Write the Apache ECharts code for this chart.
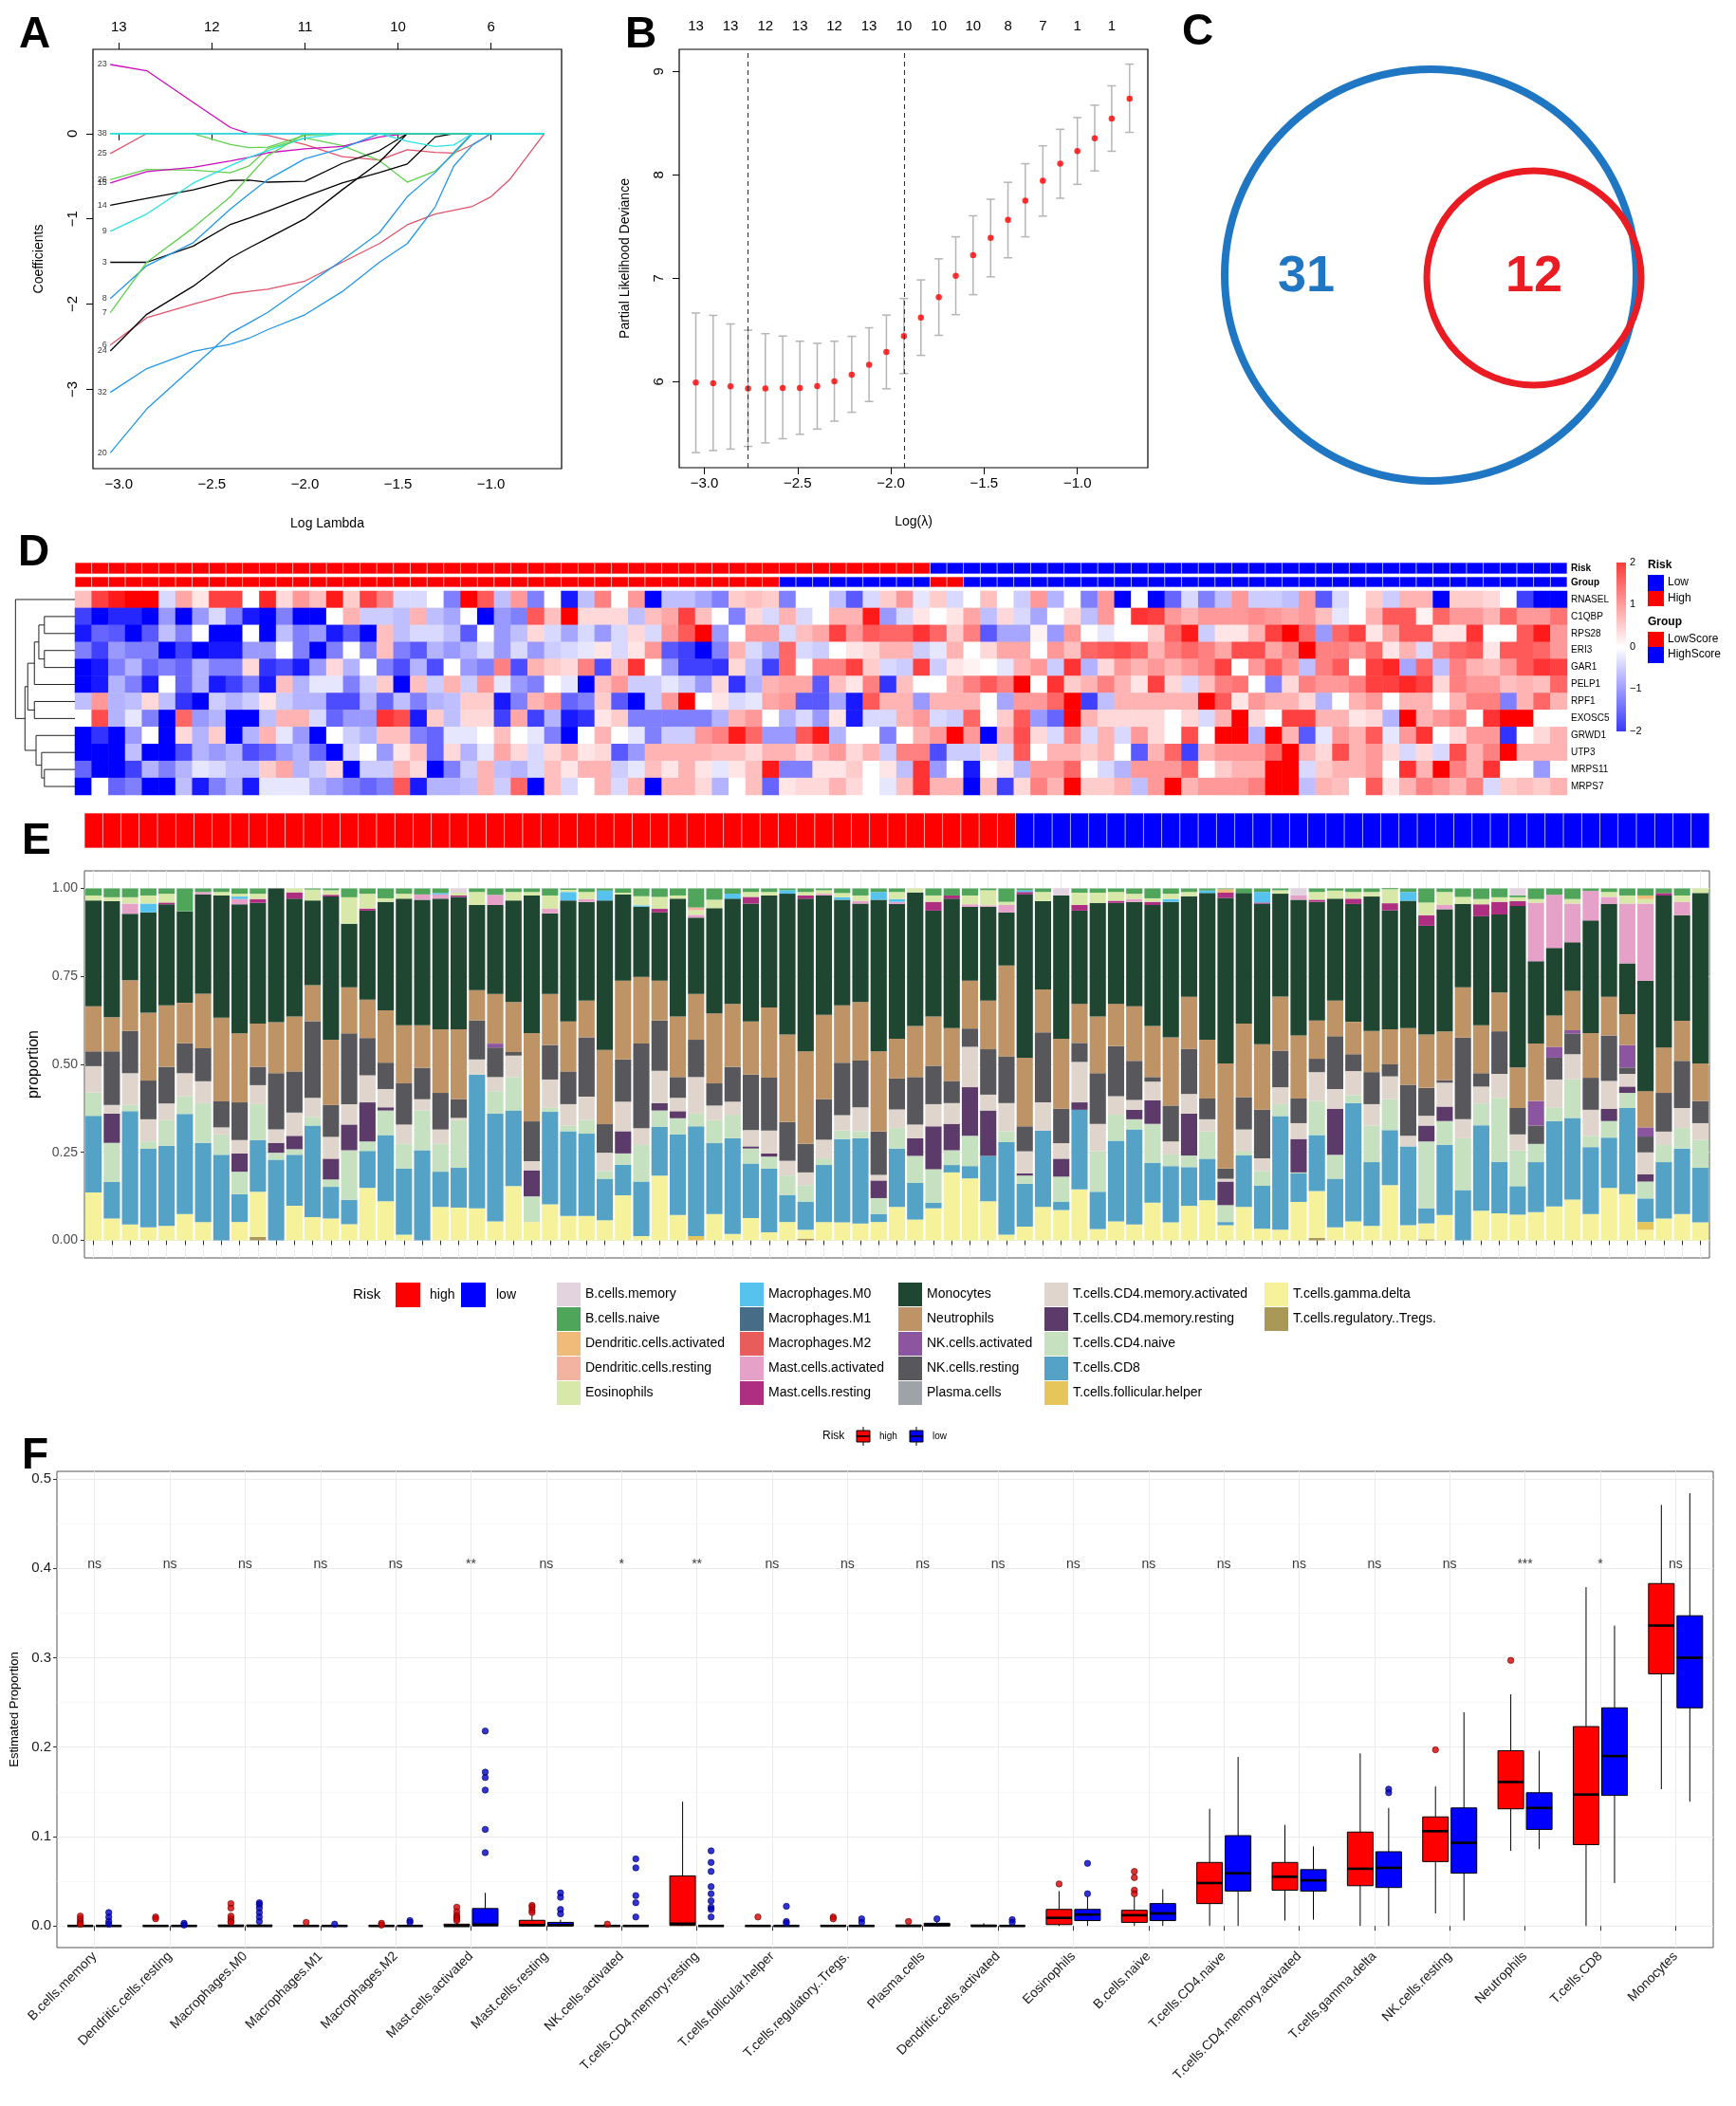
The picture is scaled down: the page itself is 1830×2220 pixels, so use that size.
<!DOCTYPE html>
<html>
<head>
<meta charset="UTF-8">
<script src="https://cdn.jsdelivr.net/npm/echarts@6/dist/echarts.min.js"></script>
<style>
  html, body { margin: 0; padding: 0; background: #fff; }
  #main { width: 1830px; height: 2220px; }
</style>
</head>
<body>
<div id="main"></div>
<script>
var FONT = '"Liberation Sans", Arial, Helvetica, sans-serif';

// ---------- A: lasso coefficient paths ----------
var lambdaGrid = [-3.046, -2.85, -2.6, -2.4, -2.3, -2.2, -2.0, -1.8, -1.6, -1.45, -1.3, -1.2, -1.1, -1.0, -0.9, -0.714];
var coefLabels = ['23', '25', '26', '15', '14', '9', '3', '8', '7', '6', '24', '32', '20', '', '', '38'];
var coefPaths = [
  [0.81, 0.737, 0.364, 0.07, 0, 0, 0, 0, 0, 0, 0, 0, 0, 0, 0, 0],
  [-0.235, 0, 0, 0, 0, -0.02, -0.13, -0.27, -0.31, -0.19, -0.22, -0.23, -0.13, 0, 0, 0],
  [-0.54, -0.42, -0.43, -0.46, -0.38, -0.175, -0.05, -0.14, -0.316, -0.57, -0.44, -0.24, 0, 0, 0, 0],
  [-0.58, -0.445, -0.395, -0.32, -0.28, -0.225, -0.18, -0.15, -0.04, 0, 0, 0, 0, 0, 0, 0],
  [-0.84, -0.76, -0.66, -0.55, -0.545, -0.57, -0.56, -0.35, -0.2, 0, 0, 0, 0, 0, 0, 0],
  [-1.146, -0.943, -0.58, -0.377, -0.28, -0.2, -0.05, 0, 0, 0, 0, 0, 0, 0, 0, 0],
  [-1.51, -1.51, -1.32, -1.065, -0.99, -0.91, -0.74, -0.58, -0.457, -0.356, -0.04, 0, 0, 0, 0, 0],
  [-1.935, -1.55, -1.28, -0.883, -0.71, -0.54, -0.296, -0.174, 0, 0, 0, 0, 0, 0, 0, 0],
  [-2.1, -1.51, -1.105, -0.74, -0.5, -0.26, 0, 0, 0, 0, 0, 0, 0, 0, 0, 0],
  [-2.48, -2.16, -2.0, -1.88, -1.85, -1.826, -1.73, -1.51, -1.29, -1.07, -0.943, -0.9, -0.854, -0.74, -0.54, 0],
  [-2.55, -2.12, -1.79, -1.46, -1.34, -1.227, -1.0, -0.66, -0.336, 0, 0, 0, 0, 0, 0, 0],
  [-3.036, -2.757, -2.555, -2.47, -2.4, -2.3, -2.125, -1.854, -1.51, -1.29, -0.86, -0.38, -0.134, 0, 0, 0],
  [-3.745, -3.23, -2.737, -2.34, -2.22, -2.097, -1.79, -1.486, -1.162, -0.74, -0.457, -0.22, 0, 0, 0, 0],
  [0, 0, 0, -0.13, -0.165, -0.16, -0.02, 0, 0, 0, 0, 0, 0, 0, 0, 0],
  [0, 0, 0, 0, 0, 0, 0, 0, 0, -0.09, -0.15, -0.134, 0, 0, 0, 0],
  [0, 0, 0, 0, 0, 0, 0, 0, 0, 0, 0, 0, 0, 0, 0, 0]
];
var coefColors = ['#CD0BBC', '#DF536B', '#61D04F', '#CD0BBC', '#000000', '#28E2E5', '#000000', '#2297E6',
  '#61D04F', '#DF536B', '#000000', '#2297E6', '#2297E6', '#61D04F', '#28E2E5', '#28E2E5'];
var dfAt = [-3, -2.5, -2, -1.5, -1];
var dfCount = [13, 12, 11, 10, 6];

// ---------- B: cross-validation ----------
var cvLogLambda = [-3.046, -2.953, -2.860, -2.766, -2.673, -2.580, -2.488, -2.395, -2.303, -2.210, -2.117, -2.024, -1.930,
  -1.839, -1.743, -1.652, -1.559, -1.465, -1.372, -1.279, -1.185, -1.092, -1.000, -0.907, -0.816, -0.720];
var cvMean = [5.99, 5.983, 5.953, 5.933, 5.933, 5.937, 5.937, 5.957, 6.003, 6.067, 6.163, 6.287, 6.44, 6.62, 6.817,
  7.023, 7.223, 7.39, 7.563, 7.75, 7.943, 8.107, 8.23, 8.353, 8.543, 8.737];
var cvUpper = [6.663, 6.64, 6.557, 6.497, 6.463, 6.44, 6.39, 6.37, 6.39, 6.437, 6.52, 6.643, 6.803, 6.983, 7.187,
  7.4, 7.603, 7.763, 7.927, 8.107, 8.28, 8.44, 8.553, 8.673, 8.86, 9.07];
var cvLower = [5.313, 5.333, 5.347, 5.373, 5.407, 5.447, 5.49, 5.54, 5.617, 5.703, 5.807, 5.93, 6.077, 6.253, 6.447,
  6.647, 6.84, 7.013, 7.197, 7.4, 7.6, 7.773, 7.907, 8.037, 8.227, 8.41];
var cvNonzero = [13, 13, 12, 13, 12, 13, 10, 10, 10, 8, 7, 1, 1];
var lambdaCut = [-2.765, -1.930];

// ---------- C: Venn ----------
var vennCounts = [31, 12];

// ---------- D: heatmap ----------
var genes = ['RNASEL', 'C1QBP', 'RPS28', 'ERI3', 'GAR1', 'PELP1', 'RPF1', 'EXOSC5', 'GRWD1', 'UTP3', 'MRPS11', 'MRPS7'];
var zRNASEL = [.5,1.5,1.8,2,2,-.3,.7,.2,1.5,1.5,0,1.7,.3,.8,.5,1.8,.4,1.5,1,-.3,-.3,0,-1,2,1.3,-.5,.8,-1,0,-1.8,-.5,1,0,.8,-2,-.5,-.5,-.7,-1,.4,.5,.4,-1,0,0,-.5,-1.3,
  -.3,.4,.8,-.2,.4,-.3,0,.5,0,-.4,.8,-.6,0,-1,.8,-2,0,-2,-1.2,-.3,-1,-.5,.8,-.4,-.4,-.5,.8,-1.3,-.3,0,.4,-.4,.6,.6,-2,.4,.4,.3,0,-1.5,-2,-2];
var zC1QBP = [-1.5,-2,-1.7,-1.7,-2,-.8,-2,-.8,-.3,-1,-1.8,-2,-1,-2,-2,0,.6,-.4,-.4,-.5,.6,-.5,-.7,0,-2,-.8,-1,1.3,.5,2,.3,.3,.3,-.5,.5,.7,1.5,.5,0,-1,.3,-.3,.6,-.3,0,.6,.6,
  1.8,-.8,-.3,.2,0,.2,.7,-.5,.3,-.3,-.7,0,.3,-.5,.8,0,1.6,1.5,.8,.6,.8,.8,.8,.9,.8,.7,.8,.5,-.2,0,.6,1.3,1.3,.1,1.2,.8,.8,.6,1.2,.8,.8,1.1];
var zRPS28 = [-1.8,-1.2,-1.3,-2,-1.3,-.5,-1,0,-2,-2,0,-2,-.5,-1,-.8,-1.8,-1.3,-2,.5,-.5,-.3,-.3,-.5,-1.3,0,-.8,-.5,.3,-.3,-.7,-.3,-.8,-.3,.3,-.3,.8,1.3,2,-.8,0,.8,.8,-.3,.5,.7,1.5,.8,
  1.3,1.2,1.2,1.6,1.2,.4,1,-1.3,-.7,-.7,.1,-.8,.8,0,-.2,0,0,.4,1.2,1.8,-.4,.2,.2,.6,1.5,2,1.2,-.8,1.2,1.5,.2,.7,1.3,1.3,.2,.2,1.6,0,0,1.3,1.8,.8];
var zERI3 = [-1,-1.5,-.8,-1,-1,-2,-1.5,-2,-1.8,-1.8,-.8,-.8,0,-1,-2,-1,0,-1,.5,-1,-1.3,-.6,-.8,-.6,-.3,-.8,-.3,-.8,-.4,-.3,-.2,.2,-.3,.2,.8,-1.3,-1.5,-2,-1,.6,-.3,-.6,1.2,-.3,-.4,0,.2,
  .3,.6,.6,-.4,-.2,.6,0,.3,.7,.7,0,.8,.5,1.2,1.3,1.4,1.2,.6,1,1.2,1,.7,1.4,1.4,.7,1,2,1,1,.8,1.2,.2,.6,-.3,1,1.2,1.3,.2,1.3,1.3,1.2,.8];
var zGAR1 = [-2,-1.8,-1,-.6,-1.2,-1,-1.2,-.6,-1,-1,.3,-1.6,-1.4,-1.8,-.8,.3,-.6,0,-1,-1.4,-.6,-1.4,0,-.8,-1,1,-1.4,.6,.4,.3,1,-1.4,.5,1.6,0,-.8,-1.5,-1.5,-1.6,.3,-.5,-1.5,1.2,0,1,1,1.5,
  .4,-.3,-.4,1.5,-.4,.2,.1,0,-.2,.6,.8,-.4,1.6,-.6,.3,.8,.6,.8,.6,.8,1,1.5,0,.8,1.3,.8,-.5,1,1.3,0,1.5,1.7,-.7,1.2,-.5,1,.6,.5,.8,1.3,1.6,1.5];
var zPELP1 = [-2,-1.8,-.6,-1,-1.8,0,-1.2,-.6,-1.8,-1.5,-1,-1.8,.5,-.6,-.2,-.2,-1,-.4,.4,-2,.5,-.4,.6,-.4,.8,-.2,-.8,-1,0,-.2,-2,.5,.8,-.4,-.4,-.2,-.4,-.8,.3,-1.6,-.6,.6,.7,.7,-1.3,.5,.2,
  1,-1.6,.5,0,0,.6,1,1.3,1,2,0,1.6,.4,.6,1,.6,.2,1.5,.3,-.3,.5,1,1.1,0,-1,.3,1,.8,.8,1,1.5,1.5,1.7,1.5,.3,1,.8,.8,.5,.6,.5,1.2];
var zRPF1 = [-.5,.8,-.6,-.5,.3,-.5,-1.6,-2,-.4,-.6,-.4,.2,-.4,-.6,-.6,-1.4,-1.4,-.6,-1.2,-.5,-1,-.6,-.5,.4,.4,-1.8,-1,.6,.8,-1.2,-1,.4,-1.3,-2,-.4,.8,2,0,.2,-.3,-.2,.7,.8,-1.3,-1.3,-.7,-1.8,
  1.3,.6,.6,-.8,.6,.6,.6,0,-.7,.8,.8,1.2,2,-1.5,-.5,.6,.6,.6,.6,.6,2,1.3,.2,.8,.6,.6,.3,-.6,0,.6,.8,0,.6,.6,0,.6,1,1,-1,.6,1.2,.6];
var zEXOSC5 = [0,1.4,-.6,-.2,-1,-2,1.2,-.8,-.6,-2,-2,-.5,.6,.6,-.3,-1.2,-.8,-.8,1.6,1.4,-1.8,.4,-.5,.3,.3,-1.5,.7,-1.5,-.6,-1.8,-1.6,.2,.4,-1,-1,-1,-1,-1,-.6,.6,.8,0,-.6,-.3,-.8,.2,-1.8,
  -.3,-.3,.6,.8,-.3,-.4,1.2,0,.4,1.3,-.8,-1.2,2,.6,.3,.3,.3,.3,0,.3,-.3,.6,2,.3,0,1.5,1.5,.6,.6,.2,.3,-.6,2,.6,.8,1,0,1.6,2,2,0,0];
var zGRWD1 = [-2,-1.6,-2,-.8,0,-2,.3,-.6,.4,-2,-.6,.6,-.2,-.8,-2,0,-.4,-.6,.5,.5,-1,-1.2,-.2,-.2,0,.5,0,-.2,-1,-2,0,.6,0,-.2,-1,-.4,-.4,.8,1,1.8,1.2,-.8,-.8,1.3,1.8,-.6,0,
  0,-1,0,.6,.8,2,.8,-2,.6,1.4,.3,-.3,1,-.3,.6,-.3,.8,.3,0,1.4,0,2,2,-.6,2,.6,-1.3,-.2,.8,.6,1.3,-.2,.8,1.6,0,.3,.8,.8,-1.6,0,.3,.6];
var zUTP3 = [-2,-2,-2,-.5,-2,-2,-1.4,-.6,-.8,-.6,-1.4,-1.2,-.8,-.6,-1.2,-2,-.3,0,-.8,.2,.5,-1.2,.3,-.6,-.2,.7,.3,-.3,.3,.6,.2,.3,-1.3,-.8,.6,.6,.6,.6,.5,.5,.3,.6,.6,.3,.6,.8,.3,
  .6,-.4,1,1,-1.4,-.4,-.4,.3,-.3,1.3,0,.6,.6,.4,.6,0,-1.3,.6,1.2,-1.5,.6,.8,.8,.8,1.2,2,.6,.3,1.4,.6,.8,.3,-.3,.3,-.3,1.4,.6,1,2,.6,.6,.6];
var zMRPS11 = [-1.2,-2,-2,-1.5,-.6,-1,-.6,-.2,-.3,-.5,-.5,.4,.7,-.6,-.4,.3,-2,-.4,-.4,.6,.3,-2,-1,-.4,.6,-.5,-.6,-.3,.5,.2,.6,.6,-.4,-.2,.5,.2,.6,.2,-.2,.2,.5,1.8,-1,-1,.2,.2,.4,
  0,.2,-.5,1.6,-.8,0,-1.8,0,.2,-.6,.8,.8,1.2,0,-.3,-.6,.8,.8,.8,1.2,0,.4,.6,.6,2,2,-.3,.4,.6,.6,.8,0,1.6,.6,2,1,.6,1.6,0,0,-.8,0];
var zMRPS7 = [-2,0,-1.2,-1,-2,-2,-.5,-1.8,-1,-.6,-1.8,-.2,-.2,-.2,-.6,-.8,-1,-1.2,-1,1.3,-1.8,-.6,-.6,-.5,.6,-.4,1.2,-2,.5,-.3,0,.6,-.3,.6,-2,.6,.6,.3,-.6,0,.5,-1.2,.2,.3,.3,.6,.3,
  0,-.2,.5,1.6,.6,.6,-2,.5,-1.5,.3,1,.6,2,.4,.4,.6,-.5,.8,2,.6,.8,.8,.8,1,2,2,-.5,.6,.5,0,1.3,.2,.6,1,.8,.6,1,-.3,.4,.5,.4,.6];
var riskRuns = [['high', 51], ['low', 38]];
var groupRuns = [['LowScore', 42], ['HighScore', 9], ['LowScore', 2], ['HighScore', 36]];
// hclust-style merges: negative = leaf (1-based), positive = earlier merge
var dendroMerge = [[-2, -3], [-4, -5], [1, 2], [3, -6], [-7, -8], [4, 5], [-11, -12], [-10, 7], [-9, 8], [6, 9], [-1, 10]];
var dendroHeight = [55, 55, 65, 73, 73, 85, 55, 60, 70, 90, 107];

// ---------- E: CIBERSORT proportions per sample ----------
var propGammaDelta = [.136,.062,.045,.037,.041,.075,.052,0,.052,.128, 0,.098,.066,.062,.046,.149,.111,.016,0,.095,
  .093,.091,.054,.154,.052,.102,.069,.069,.057,.128, .012,.184,.072,0,.075,.018,.063,.023,.052,.025,
  .052,.051,.048,.052,.095,.059,.091,.193,.176,.111, .016,.039,.095,.086,.145,.032,.054,.045,.107,.051,
  .098,.114,.043,.095,.033,.03,.109,.133,.037,.054, .041,.157,.043,.045,.072,0,.084,.077,.073,.08,
  .096,.116,.075,.149,.131,.03,.062,.075,.051];
var propCD8 = [.218,.104,.322,.223,.228,.284,.225,.243,.079,.147, .229,.145,.26,.09,.069,.105,.188,.188,.256,.1,
  .113,.38,.306,.215,0,.263,.241,.234,.118,.087, .155,.138,.229,.312,.201,.272,.155,.181,.077,.079,
  .162,.237,.242,.023,.166,.104,.016,.021,.035,.129, .263,.122,.217,.023,.226,.106,.229,.27,.113,.16,
  .11,.118,.009,.146,.122,.323,.081,.159,.138,.336, .181,.156,.224,.043,.199,.143,.243,.146,.081,.142,
  .243,.232,.19,.143,.245,.067,.16,.186,.155];
var propCD4Naive = [.066,.111,.018,.021,.073,.051,.113,.058,.064,.102, .02,.016,.025,.021,.141,.027,.07,.07,.113,.079,
  .136,0,.064,.095,.073,.013,.016,.039,.022,.032, .104,.047,.046,.036,.066,.067,.043,.034,.055,.048,
  .019,.024,.02,.045,.058,.077,.095,.042,.086,0, .031,.023,0,.072,0,.115,.074,.029,.111,.033,
  .033,.077,.048,.011,.042,.034,.003,.097,.068,.022, .104,.088,0,.19,.068,.147,.062,.182,.102,.052,
  .039,.11,.032,.047,.043,.048,.049,.058,.08];
var propCD4MemRest = [0,.083,0,0,0,0,0,0,.052,0, .028,.038,0,.059,.073,.111,.009,0,0,0,
  0,0,0,0,.074,0,0,0,0,.063, 0,.021,.02,0,0,0,.006,.009,0,0,
  0,0,0,.05,0,.05,.122,.075,.138,.129, 0,.006,0,.051,.021,0,0,.027,.067,0,
  .119,0,.067,0,0,0,.095,0,.131,0, 0,0,0,.045,.041,0,0,0,0,0,
  0,0,0,.035,.018,.021,0,0,0];
var propCD4MemAct = [.075,.025,.09,.063,.047,.065,.062,.02,.038,.054, .038,.066,.054,.062,.058,.077,.052,.055,.032,.041,
  .006,.043,.04,.061,.026,.079,.061,.066,.052,.084, .048,.092,.038,.104,.041,.037,.046,.065,.042,.036,
  .053,.044,.068,.016,.053,.039,.063,.059,.115,.045, .08,.063,.08,.044,.115,.078,.053,.028,.053,.037,
  .056,.035,.008,.063,.036,.048,.045,.082,.056,.069, .061,.065,.03,.028,.068,.054,.048,.068,.045,0,
  .079,.071,.074,.079,.036,.062,.038,.057,.047];
var propNKRest = [.042,.152,.12,.11,.104,.085,.094,.074,.107,.052, .16,.117,.218,.091,.201,.106,.075,.117,.089,.104,
  .053,.111,.084,.01,.113,.098,.093,.169,.081,.12, .24,.143,.059,.106,.063,.099,.158,.15,.11,.081,
  .115,.149,.133,.123,.088,.135,.109,.063,.052,.129, .133,.071,.199,.098,.054,.144,.142,.111,.013,.102,
  .128,.059,.029,.092,.138,.104,.07,.038,.15,.048, .091,.034,.145,.079,.007,.232,.038,.121,.075,.052,
  .062,.059,.091,.129,.018,.045,.11,.134,.063];
var propNeutrophils = [.128,.097,.144,.193,.175,.115,.155,.238,.196,.123, .145,.156,.102,.185,.131,.109,.149,.165,.121,.181,
  .199,.086,.141,.142,.251,.145,.142,.104,.211,.224, .19,.113,.172,.13,.199,.179,.151,.2,.249,.263,
  .24,.163,.166,.228,.113,.145,.14,.15,.136,.138, .258,.195,.122,.199,.111,.161,.12,.155,.145,.194,
  .148,.167,.299,.209,.186,.154,.179,.109,.101,.092, .117,.1,.161,.152,.139,.143,.136,.11,.115,.163,
  .089,.112,.127,.11,.088,.103,.129,.114,.107];
var propMonocytes = [.301,.33,.189,.285,.287,.26,.282,.347,.367,.343, .38,.335,.241,.407,.181,.253,.308,.36,.357,.371,
  .376,.242,.253,.289,.391,.229,.344,.281,.425,.245, .199,.194,.335,.217,.299,.299,.335,.318,.4,.434,
  .339,.3,.28,.431,.383,.38,.301,.368,.21,.267, .151,.464,.251,.407,.265,.323,.287,.297,.344,.385,
  .286,.417,.47,.371,.4,.292,.386,.337,.29,.335, .382,.338,.362,.309,.347,.237,.31,.222,.459,.234,
  .192,.138,.32,.264,.144,.314,.432,.3,.484];
var propEosinophils = [.014,.011,.018,.023,.025,0,0,.01,.008,.015, 0,.011,.031,.013,.075,.042,.01,.014,0,0,
  .008,.037,0,.024,.01,.038,.006,.02,0,.005, .026,.034,.009,.013,.024,0,.014,.01,0,.01,
  .01,.012,.015,0,.02,.011,.018,0,.025,.043, .009,0,.026,0,.035,.029,.025,.015,.01,.015,
  .012,0,0,0,0,.01,0,.022,.023,.019, .013,.04,0,.036,.037,.02,.015,.013,.011,.01,
  0,.013,0,.014,.023,.013,0,.018,.013];
var propBNaive = [.02,.025,.025,.02,.015,.065,.01,.01,.015,.015, 0,0,.003,.005,.025,.015,.028,.015,.017,.013,
  0,.01,.018,.01,.01,.02,.004,.01,.006,.012, .022,.024,.02,.054,.032,.015,.01,.01,.005,.01,
  .005,.013,.02,.01,.01,0,.02,.02,.02,.005, .038,.005,.01,0,.012,.012,.01,.015,.028,.015,
  .01,.006,.002,.013,.01,.005,0,.01,.006,.01, .01,.003,.01,.04,.01,.024,.03,.025,.005,.03,
  .018,.03,.007,.01,.02,.02,.013,.02,0];
// sparse ones: {sample index: proportion}
var propNKAct = {22: .011, 79: .07, 80: .031, 81: .009, 84: .064, 85: .026};
var propMastRest = {4: .005, 9: .011, 11: .018, 13: .005, 15: .006, 20: .004, 31: .01, 36: .019, 39: .009, 46: .025, 47: .009,
  51: .007, 54: .016, 56: .006, 58: .009, 62: .015, 64: .003, 67: .006, 69: .015, 71: .02, 73: .03, 76: .034, 77: .036, 78: .014, 86: .007};
var propMastAct = {2: .029, 6: .007, 8: .015, 18: .015, 19: .012, 22: .029, 25: .013, 27: .008, 33: .008, 40: .005, 42: .008,
  44: .006, 48: .007, 49: .004, 50: .021, 57: .008, 66: .012, 74: .012, 79: .167, 80: .151, 81: .11, 82: .084, 83: .02, 84: .17, 85: .219, 87: .038};
var propM0 = {3: .025, 8: .007, 19: .004, 26: .024, 28: .028, 30: .004, 35: .014, 38: .01, 41: .007, 43: .022, 44: .008,
  51: .005, 59: .008, 61: .007, 64: .03, 72: .025};
var propTregs = {9: .01, 39: .005, 67: .007, 73: .003};
var propTfh = {33: .012, 85: .022};
var propDCAct = {62: .01, 85: .01};
var propDCRest = {33: .008};
var propBMem = {20: .012, 53: .02, 66: .02, 78: .02};
var propPlasma = {};
var propM1 = {};
var propM2 = {};

// ---------- F: boxplots ----------
var cellOrderF = ['B.cells.memory', 'Dendritic.cells.resting', 'Macrophages.M0', 'Macrophages.M1', 'Macrophages.M2',
  'Mast.cells.activated', 'Mast.cells.resting', 'NK.cells.activated', 'T.cells.CD4.memory.resting', 'T.cells.follicular.helper',
  'T.cells.regulatory..Tregs.', 'Plasma.cells', 'Dendritic.cells.activated', 'Eosinophils', 'B.cells.naive', 'T.cells.CD4.naive',
  'T.cells.CD4.memory.activated', 'T.cells.gamma.delta', 'NK.cells.resting', 'Neutrophils', 'T.cells.CD8', 'Monocytes'];
// [min, q1, median, q3, max]
var boxHigh = [[0,0,0,0,0],[0,0,0,0,0],[0,0,0,.001,.002],[0,0,0,0,0],[0,0,0,0,0],[0,0,0,.002,.004],[0,0,.001,.0063,.012],
  [0,0,0,0,0],[0,.0005,.0025,.056,.139],[0,0,0,0,0],[0,0,0,0,0],[0,0,0,.001,.002],[0,0,0,.001,.003],[0,.0015,.009,.0185,.039],
  [0,.004,.012,.0175,.033],[0,.025,.048,.071,.131],[.006,.04,.055,.071,.113],[0,.045,.064,.105,.193],[.014,.072,.106,.122,.156],
  [.084,.131,.161,.196,.259],[0,.091,.147,.223,.379],[.153,.282,.336,.383,.471]];
var boxLow = [[0,0,0,0,0],[0,0,0,0,0],[0,0,0,.001,.002],[0,0,0,0,0],[0,0,0,0,.001],[0,0,.0015,.0195,.037],[0,0,.001,.004,.007],
  [0,0,0,0,0],[0,0,0,0,0],[0,0,0,0,0],[0,0,0,0,0],[0,0,.001,.003,.005],[0,0,0,0,.001],[0,.006,.0127,.0185,.033],
  [0,.006,.014,.025,.041],[0,.039,.059,.101,.189],[.007,.039,.051,.063,.089],[0,.043,.065,.083,.132],[.006,.059,.093,.132,.239],
  [.086,.108,.132,.149,.196],[.048,.146,.19,.244,.336],[.139,.244,.30,.347,.484]];
// [category index, value]
var outHigh = [[0,.011],[0,.008],[0,.005],[0,.003],[0,.002],[1,.01],[1,.008],[2,.025],[2,.02],[2,.011],[2,.008],[2,.005],[2,.004],
  [3,.004],[4,.003],[4,.001],[5,.021],[5,.016],[5,.012],[5,.01],[5,.008],[5,.006],[6,.023],[6,.021],[6,.0175],[6,.015],[7,.002],
  [9,.01],[10,.01],[10,.008],[11,.005],[13,.047],[14,.061],[14,.054],[14,.04],[14,.036],[18,.197],[19,.297]];
var outLow = [[0,.015],[0,.01],[0,.005],[0,.002],[1,.003],[1,.001],[2,.026],[2,.024],[2,.02],[2,.015],[2,.01],[2,.005],[3,.002],
  [4,.006],[4,.004],[5,.218],[5,.172],[5,.166],[5,.152],[5,.108],[5,.082],[6,.037],[6,.032],[6,.0185],[6,.0135],
  [7,.075],[7,.065],[7,.034],[7,.026],[7,.01],[8,.084],[8,.071],[8,.061],[8,.044],[8,.036],[8,.028],[8,.021],[8,.0185],[8,.01],
  [9,.022],[9,.005],[9,.003],[10,.008],[10,.004],[11,.008],[12,.007],[12,.004],[13,.07],[13,.036],[17,.153],[17,.149]];
var sigLabels = ['ns','ns','ns','ns','ns','**','ns','*','**','ns','ns','ns','ns','ns','ns','ns','ns','ns','ns','***','*','ns'];

// ================= build =================
var nSamples = propGammaDelta.length;
var samples = [];
for (var i = 0; i < nSamples; i++) samples.push('S' + (i + 1));

function expandRuns(runs) {
  var out = [];
  runs.forEach(function (r) { for (var k = 0; k < r[1]; k++) out.push(r[0]); });
  return out;
}
function dense(v) {
  if (Array.isArray(v)) return v;
  var out = [];
  for (var i = 0; i < nSamples; i++) out.push(v[i] || 0);
  return out;
}
function rNum(v, d) {
  var s = Math.abs(v).toFixed(d);
  return (v < 0 ? '\u2212' : '') + s;
}
function near(arr, v) {
  for (var i = 0; i < arr.length; i++) if (Math.abs(arr[i] - v) < 1e-6) return i;
  return -1;
}

var riskSeq = expandRuns(riskRuns);
var groupSeq = expandRuns(groupRuns);
var annotColor = {high: '#FF0000', low: '#0000FF', LowScore: '#FF0000', HighScore: '#0000FF'};

var cellColors = {
  'B.cells.memory': '#E3D3DF', 'B.cells.naive': '#4FA65B', 'Dendritic.cells.activated': '#F0BB78',
  'Dendritic.cells.resting': '#F3B3A1', 'Eosinophils': '#D7E8A8', 'Macrophages.M0': '#56C3EF',
  'Macrophages.M1': '#466C88', 'Macrophages.M2': '#E85D5B', 'Mast.cells.activated': '#E6A1C9',
  'Mast.cells.resting': '#AE2F82', 'Monocytes': '#1F4630', 'Neutrophils': '#BE9366',
  'NK.cells.activated': '#8C559F', 'NK.cells.resting': '#58575B', 'Plasma.cells': '#9FA2A6',
  'T.cells.CD4.memory.activated': '#E0D5CC', 'T.cells.CD4.memory.resting': '#5C3A69', 'T.cells.CD4.naive': '#C5E1BF',
  'T.cells.CD8': '#54A2C6', 'T.cells.follicular.helper': '#E6C65A', 'T.cells.gamma.delta': '#F6F29B',
  'T.cells.regulatory..Tregs.': '#A99858'
};
var cellValues = {
  'T.cells.regulatory..Tregs.': propTregs, 'T.cells.gamma.delta': propGammaDelta, 'T.cells.follicular.helper': propTfh,
  'T.cells.CD8': propCD8, 'T.cells.CD4.naive': propCD4Naive, 'T.cells.CD4.memory.resting': propCD4MemRest,
  'T.cells.CD4.memory.activated': propCD4MemAct, 'Plasma.cells': propPlasma, 'NK.cells.resting': propNKRest,
  'NK.cells.activated': propNKAct, 'Neutrophils': propNeutrophils, 'Monocytes': propMonocytes,
  'Mast.cells.resting': propMastRest, 'Mast.cells.activated': propMastAct, 'Macrophages.M2': propM2,
  'Macrophages.M1': propM1, 'Macrophages.M0': propM0, 'Eosinophils': propEosinophils,
  'Dendritic.cells.resting': propDCRest, 'Dendritic.cells.activated': propDCAct, 'B.cells.naive': propBNaive,
  'B.cells.memory': propBMem
};
// ggplot stacks the first factor level on top, so draw bottom-up in reverse legend order
var legendOrder = Object.keys(cellColors);
var stackOrder = legendOrder.slice().reverse();

var series = [];

// --- A lines
coefPaths.forEach(function (p, k) {
  series.push({
    type: 'line', name: 'coef' + k, xAxisIndex: 0, yAxisIndex: 0, symbol: 'none', silent: true,
    lineStyle: {color: coefColors[k], width: 1.3},
    data: p.map(function (v, i) { return [lambdaGrid[i], v]; }),
    z: k === coefPaths.length - 1 ? 4 : 3
  });
});
series.push({
  type: 'scatter', xAxisIndex: 0, yAxisIndex: 0, symbolSize: 1, silent: true,
  itemStyle: {color: 'transparent'},
  label: {show: true, position: 'left', distance: 3, fontSize: 9, color: '#000', fontFamily: FONT,
    formatter: function (p) { return coefLabels[p.dataIndex]; }},
  data: coefPaths.map(function (p) { return [lambdaGrid[0], p[0]]; })
});

// --- B error bars + points
series.push({
  type: 'custom', xAxisIndex: 2, yAxisIndex: 1, silent: true,
  encode: {x: 0, y: [1, 2]},
  data: cvLogLambda.map(function (x, i) { return [x, cvLower[i], cvUpper[i]]; }),
  renderItem: function (params, api) {
    var lo = api.coord([api.value(0), api.value(1)]);
    var hi = api.coord([api.value(0), api.value(2)]);
    var cap = 4.5, st = {stroke: '#B5B5B5', lineWidth: 1.5};
    return {type: 'group', children: [
      {type: 'line', shape: {x1: lo[0], y1: lo[1], x2: hi[0], y2: hi[1]}, style: st},
      {type: 'line', shape: {x1: lo[0] - cap, y1: lo[1], x2: lo[0] + cap, y2: lo[1]}, style: st},
      {type: 'line', shape: {x1: hi[0] - cap, y1: hi[1], x2: hi[0] + cap, y2: hi[1]}, style: st}
    ]};
  }
});
series.push({
  type: 'scatter', xAxisIndex: 2, yAxisIndex: 1, symbolSize: 6.5, silent: true, z: 4,
  itemStyle: {color: '#FF0000'},
  data: cvLogLambda.map(function (x, i) { return [x, cvMean[i]]; }),
  markLine: {
    silent: true, symbol: ['none', 'none'], label: {show: false},
    lineStyle: {color: '#333', type: [5, 4], width: 1.1},
    data: lambdaCut.map(function (v) { return {xAxis: v}; })
  }
});

// --- D heatmap
var zRows = [zRNASEL, zC1QBP, zRPS28, zERI3, zGAR1, zPELP1, zRPF1, zEXOSC5, zGRWD1, zUTP3, zMRPS11, zMRPS7];
var heatData = [];
zRows.forEach(function (row, g) {
  row.forEach(function (v, s) { heatData.push([s, g, v]); });
});
var heatIndex = series.length;
series.push({type: 'heatmap', xAxisIndex: 4, yAxisIndex: 2, data: heatData, silent: true, progressive: 0});

function annotBars(seq, xi, yi) {
  return {
    type: 'bar', xAxisIndex: xi, yAxisIndex: yi, silent: true, barCategoryGap: '0%', barGap: '0%',
    data: seq.map(function (k) {
      return {value: 1, itemStyle: {color: annotColor[k], borderColor: 'rgba(255,255,255,0.3)', borderWidth: 0.5}};
    })
  };
}
series.push(annotBars(riskSeq, 5, 3));
series.push(annotBars(groupSeq, 6, 4));

// dendrogram
var nodePos = [], nodeH = [], dendroSegs = [];
function childInfo(c) {
  if (c < 0) return {pos: -c - 1 + 0.5, h: 0};
  return {pos: nodePos[c - 1], h: nodeH[c - 1]};
}
dendroMerge.forEach(function (m, k) {
  var a = childInfo(m[0]), b = childInfo(m[1]), h = dendroHeight[k];
  dendroSegs.push([a.h, a.pos, b.h, b.pos, h]);
  nodePos.push((a.pos + b.pos) / 2);
  nodeH.push(h);
});
series.push({
  type: 'custom', xAxisIndex: 7, yAxisIndex: 5, silent: true,
  encode: {x: [0, 2, 4], y: [1, 3]},
  data: dendroSegs,
  renderItem: function (params, api) {
    var ha = api.value(0), pa = api.value(1), hb = api.value(2), pb = api.value(3), h = api.value(4);
    return {type: 'polyline', shape: {points: [api.coord([ha, pa]), api.coord([h, pa]), api.coord([h, pb]), api.coord([hb, pb])]},
      style: {stroke: '#222', lineWidth: 1, fill: null}};
  }
});

// --- E risk strip + stacked bars
series.push(annotBars(riskSeq, 8, 6));
series.push({
  type: 'line', xAxisIndex: 9, yAxisIndex: 7, data: [], silent: true, z: 0,
  markLine: {silent: true, z: 0, symbol: ['none', 'none'], label: {show: false}, animation: false,
    lineStyle: {color: '#EBEBEB', width: 1, type: 'solid'},
    data: samples.map(function (s) { return {xAxis: s}; })}
});
stackOrder.forEach(function (name) {
  series.push({
    type: 'bar', name: name, stack: 'cib', xAxisIndex: 9, yAxisIndex: 7, barCategoryGap: '11%', silent: true,
    itemStyle: {color: cellColors[name]}, data: dense(cellValues[name]), z: 2
  });
});

// --- F grid lines (behind), boxes, outliers, significance
var minorY = [0.05, 0.15, 0.25, 0.35, 0.45];
series.push({
  type: 'line', xAxisIndex: 10, yAxisIndex: 8, data: [], silent: true, z: 0,
  markLine: {silent: true, z: 0, symbol: ['none', 'none'], label: {show: false}, animation: false,
    lineStyle: {color: '#EBEBEB', width: 1, type: 'solid'},
    data: cellOrderF.map(function (c) { return {xAxis: c}; }).concat(
      minorY.map(function (v) { return {yAxis: v, lineStyle: {color: '#F3F3F3', width: 0.6, type: 'solid'}}; }))}
});
series.push({
  type: 'scatter', xAxisIndex: 10, yAxisIndex: 8, symbolSize: 1, silent: true, z: 5,
  itemStyle: {color: 'transparent'},
  label: {show: true, position: 'inside', fontSize: 14, color: '#000', fontFamily: FONT,
    formatter: function (p) { return sigLabels[p.dataIndex]; }},
  data: sigLabels.map(function (s, i) { return [i, 0.404]; })
});
function boxSeries(stats, offset, fill) {
  return {
    type: 'custom', xAxisIndex: 10, yAxisIndex: 8, silent: true, z: 3,
    encode: {x: 0, y: [1, 2, 3, 4, 5]},
    data: stats.map(function (s, i) { return [i].concat(s); }),
    renderItem: function (params, api) {
      var c = api.value(0);
      var pMin = api.coord([c, api.value(1)]), pQ1 = api.coord([c, api.value(2)]), pMed = api.coord([c, api.value(3)]),
        pQ3 = api.coord([c, api.value(4)]), pMax = api.coord([c, api.value(5)]);
      var x = pMed[0] + offset, hw = 13.5;
      var st = {stroke: '#000', lineWidth: 1};
      return {type: 'group', children: [
        {type: 'line', shape: {x1: x, y1: pMax[1], x2: x, y2: pQ3[1]}, style: st},
        {type: 'line', shape: {x1: x, y1: pQ1[1], x2: x, y2: pMin[1]}, style: st},
        {type: 'rect', shape: {x: x - hw, y: pQ3[1], width: 2 * hw, height: Math.max(pQ1[1] - pQ3[1], 0)},
          style: {fill: fill, stroke: '#000', lineWidth: 1}},
        {type: 'line', shape: {x1: x - hw, y1: pMed[1], x2: x + hw, y2: pMed[1]}, style: {stroke: '#000', lineWidth: 2.6}}
      ]};
    }
  };
}
series.push(boxSeries(boxHigh, -15, '#FF0000'));
series.push(boxSeries(boxLow, 15, '#0000FF'));
series.push({type: 'scatter', xAxisIndex: 10, yAxisIndex: 8, silent: true, z: 4, symbolSize: 6.5, symbolOffset: [-15, 0],
  itemStyle: {color: '#D40000', borderColor: '#6E0000', borderWidth: 0.8}, data: outHigh});
series.push({type: 'scatter', xAxisIndex: 10, yAxisIndex: 8, silent: true, z: 4, symbolSize: 6.5, symbolOffset: [15, 0],
  itemStyle: {color: '#0000C8', borderColor: '#000060', borderWidth: 0.8}, data: outLow});

// ---------- axes ----------
var rTick = {length: 7, lineStyle: {color: '#000', width: 1}};
var lamTicks = [-3, -2.5, -2, -1.5, -1];
var cvTopAt = cvLogLambda.filter(function (x, i) { return i % 2 === 0; });
function hidden(o) { return Object.assign({show: false}, o); }

var xAxes = [
  {gridIndex: 0, type: 'value', min: -3.139, max: -0.621, position: 'bottom', axisLine: {show: false}, splitLine: {show: false},
    axisTick: Object.assign({customValues: lamTicks}, rTick),
    axisLabel: {customValues: lamTicks, formatter: function (v) { return rNum(v, 1); }, fontSize: 15, color: '#000', margin: 9},
    name: 'Log Lambda', nameLocation: 'middle', nameGap: 51, nameTextStyle: {fontSize: 14, color: '#000'}},
  {gridIndex: 0, type: 'value', min: -3.139, max: -0.621, position: 'top', axisLine: {show: false}, splitLine: {show: false},
    axisTick: Object.assign({customValues: dfAt}, rTick),
    axisLabel: {customValues: dfAt, formatter: function (v) { var i = near(dfAt, v); return i < 0 ? '' : String(dfCount[i]); },
      fontSize: 15, color: '#000', margin: 16}},
  {gridIndex: 1, type: 'value', min: -3.135, max: -0.622, position: 'bottom', axisLine: {show: false}, splitLine: {show: false},
    axisTick: Object.assign({customValues: lamTicks}, rTick),
    axisLabel: {customValues: lamTicks, formatter: function (v) { return rNum(v, 1); }, fontSize: 15, color: '#000', margin: 9},
    name: 'Log(\u03BB)', nameLocation: 'middle', nameGap: 50, nameTextStyle: {fontSize: 14, color: '#000'}},
  {gridIndex: 1, type: 'value', min: -3.135, max: -0.622, position: 'top', axisLine: {show: false}, splitLine: {show: false},
    axisTick: {show: false},
    axisLabel: {customValues: cvTopAt, formatter: function (v) { var i = near(cvTopAt, v); return i < 0 ? '' : String(cvNonzero[i]); },
      fontSize: 15, color: '#000', margin: 17}},
  hidden({gridIndex: 2, type: 'category', data: samples}),
  hidden({gridIndex: 3, type: 'category', data: samples}),
  hidden({gridIndex: 4, type: 'category', data: samples}),
  hidden({gridIndex: 5, type: 'value', min: 0, max: 111, inverse: true}),
  hidden({gridIndex: 6, type: 'category', data: samples}),
  {gridIndex: 7, type: 'category', data: samples, axisLine: {show: false}, splitLine: {show: false},
    axisTick: {show: true, alignWithLabel: true, interval: 0, length: 5, lineStyle: {color: '#333'}}, axisLabel: {show: false}},
  {gridIndex: 8, type: 'category', data: cellOrderF, axisLine: {show: false}, splitLine: {show: false},
    axisTick: {show: true, alignWithLabel: true, interval: 0, length: 5, lineStyle: {color: '#333'}},
    axisLabel: {interval: 0, rotate: 45, fontSize: 14, color: '#1a1a1a', margin: 7}}
];
var yAxes = [
  {gridIndex: 0, type: 'value', min: -3.93, max: 0.988, axisLine: {show: false}, splitLine: {show: false},
    axisTick: Object.assign({customValues: [-3, -2, -1, 0]}, rTick),
    axisLabel: {customValues: [-3, -2, -1, 0], rotate: 90, formatter: function (v) { return rNum(v, 0); }, fontSize: 15, color: '#000', margin: 14},
    name: 'Coefficients', nameLocation: 'middle', nameGap: 50, nameRotate: 90, nameTextStyle: {fontSize: 14, color: '#000'}},
  {gridIndex: 1, type: 'value', min: 5.167, max: 9.213, axisLine: {show: false}, splitLine: {show: false},
    axisTick: Object.assign({customValues: [6, 7, 8, 9]}, rTick),
    axisLabel: {customValues: [6, 7, 8, 9], rotate: 90, fontSize: 15, color: '#000', margin: 14},
    name: 'Partial Likelihood Deviance', nameLocation: 'middle', nameGap: 50, nameRotate: 90, nameTextStyle: {fontSize: 14, color: '#000'}},
  {gridIndex: 2, type: 'category', data: genes, inverse: true, position: 'right', axisLine: {show: false}, axisTick: {show: false},
    axisLabel: {fontSize: 10, color: '#000', margin: 4}},
  hidden({gridIndex: 3, type: 'value', min: 0, max: 1}),
  hidden({gridIndex: 4, type: 'value', min: 0, max: 1}),
  hidden({gridIndex: 5, type: 'value', min: 0, max: 12, inverse: true}),
  hidden({gridIndex: 6, type: 'value', min: 0, max: 1}),
  {gridIndex: 7, type: 'value', min: -0.05, max: 1.05, axisLine: {show: false},
    splitLine: {show: true, lineStyle: {color: '#EBEBEB', width: 1}},
    axisTick: {show: true, customValues: [0, 0.25, 0.5, 0.75, 1], length: 4, lineStyle: {color: '#333'}},
    axisLabel: {customValues: [0, 0.25, 0.5, 0.75, 1], formatter: function (v) { return v.toFixed(2); }, fontSize: 14, color: '#4D4D4D', margin: 7},
    name: 'proportion', nameLocation: 'middle', nameGap: 41, nameRotate: 90, nameTextStyle: {fontSize: 16, color: '#000'}},
  {gridIndex: 8, type: 'value', min: -0.0242, max: 0.5085, axisLine: {show: false},
    splitLine: {show: true, lineStyle: {color: '#EBEBEB', width: 1}},
    axisTick: {show: true, customValues: [0, 0.1, 0.2, 0.3, 0.4, 0.5], length: 4, lineStyle: {color: '#333'}},
    axisLabel: {customValues: [0, 0.1, 0.2, 0.3, 0.4, 0.5], formatter: function (v) { return v.toFixed(1); }, fontSize: 15, color: '#1a1a1a', margin: 6},
    name: 'Estimated Proportion', nameLocation: 'middle', nameGap: 32, nameRotate: 90, nameTextStyle: {fontSize: 13, color: '#000'}}
];

var grids = [
  {left: 98, top: 52, width: 494, height: 442, show: true, borderColor: '#000', borderWidth: 1.2},
  {left: 716, top: 52, width: 494, height: 441, show: true, borderColor: '#000', borderWidth: 1.2},
  {left: 79, top: 623, width: 1573, height: 215},
  {left: 79, top: 593, width: 1573, height: 12},
  {left: 79, top: 608, width: 1573, height: 11},
  {left: 14, top: 623, width: 65, height: 215},
  {left: 89, top: 857, width: 1713, height: 37},
  {left: 89, top: 918, width: 1713, height: 408, show: true, borderColor: '#555', borderWidth: 1},
  {left: 60, top: 1551, width: 1746, height: 502, show: true, borderColor: '#555', borderWidth: 1}
];
grids.forEach(function (g) { g.outerBoundsMode = 'none'; g.containLabel = false; g.backgroundColor = 'transparent'; });

// ---------- legends for E ----------
var legendCols = [legendOrder.slice(0, 5), legendOrder.slice(5, 10), legendOrder.slice(10, 15), legendOrder.slice(15, 20), legendOrder.slice(20)];
var legendLeft = [587, 780, 947, 1101, 1333];
var legends = legendCols.map(function (names, k) {
  return {data: names, orient: 'vertical', left: legendLeft[k], top: 1352, padding: 0, itemGap: 1, itemWidth: 25, itemHeight: 25,
    icon: 'rect', selectedMode: false, textStyle: {fontSize: 14, color: '#000', fontFamily: FONT}};
});

// ---------- decorations ----------
function txt(x, y, s, o) {
  return {type: 'text', x: x, y: y, silent: true,
    style: Object.assign({text: s, fontFamily: FONT, fill: '#000', fontSize: 12, align: 'left', verticalAlign: 'middle'}, o || {})};
}
function rect(x, y, w, h, fill, o) {
  return {type: 'rect', silent: true, shape: {x: x, y: y, width: w, height: h}, style: Object.assign({fill: fill}, o || {})};
}
function boxKey(x, y, fill) {
  return {type: 'group', silent: true, children: [
    {type: 'line', shape: {x1: x + 7, y1: y - 10, x2: x + 7, y2: y + 10}, style: {stroke: '#000', lineWidth: 1}},
    rect(x, y - 6, 14, 12, fill, {stroke: '#000', lineWidth: 1}),
    {type: 'line', shape: {x1: x, y1: y, x2: x + 14, y2: y}, style: {stroke: '#000', lineWidth: 1.6}}
  ]};
}
var letterStyle = {fontSize: 46, fontWeight: 'bold'};
var graphics = [
  txt(20, 37, 'A', letterStyle), txt(659, 37, 'B', letterStyle), txt(1246, 34, 'C', letterStyle),
  txt(19, 583, 'D', letterStyle), txt(23, 887, 'E', letterStyle), txt(23, 1535, 'F', letterStyle),
  // C: Venn
  {type: 'circle', silent: true, shape: {cx: 1508, cy: 290, r: 217}, style: {fill: null, stroke: '#1F76C2', lineWidth: 8}},
  {type: 'circle', silent: true, shape: {cx: 1617, cy: 293, r: 113}, style: {fill: null, stroke: '#EA1B22', lineWidth: 7}},
  txt(1377, 292, String(vennCounts[0]), {fontSize: 54, fontWeight: 'bold', fill: '#1F76C2', align: 'center'}),
  txt(1617, 292, String(vennCounts[1]), {fontSize: 54, fontWeight: 'bold', fill: '#EA1B22', align: 'center'}),
  // D: annotation labels and legends
  txt(1656, 599, 'Risk', {fontSize: 10, fontWeight: 'bold'}),
  txt(1656, 614, 'Group', {fontSize: 10, fontWeight: 'bold'}),
  rect(1704, 593, 10, 178, new echarts.graphic.LinearGradient(0, 0, 0, 1, [
    {offset: 0, color: '#FF3A3A'}, {offset: 0.5, color: '#FFFFFF'}, {offset: 1, color: '#3A3AFF'}])),
  txt(1718, 593, '2', {fontSize: 11}), txt(1718, 637, '1', {fontSize: 11}), txt(1718, 682, '0', {fontSize: 11}),
  txt(1718, 726, '\u22121', {fontSize: 11}), txt(1718, 771, '\u22122', {fontSize: 11}),
  txt(1737, 596, 'Risk', {fontSize: 12, fontWeight: 'bold'}),
  rect(1737, 606, 17, 17, annotColor.low), rect(1737, 623, 17, 16, annotColor.high),
  txt(1758, 614, 'Low', {fontSize: 12}), txt(1758, 631, 'High', {fontSize: 12}),
  txt(1737, 656, 'Group', {fontSize: 12, fontWeight: 'bold'}),
  rect(1737, 666, 17, 16, annotColor.LowScore), rect(1737, 682, 17, 17, annotColor.HighScore),
  txt(1758, 674, 'LowScore', {fontSize: 12}), txt(1758, 690, 'HighScore', {fontSize: 12}),
  // E: risk legend
  txt(372, 1365, 'Risk', {fontSize: 15}),
  rect(417, 1352, 26, 26, annotColor.high), txt(453, 1365, 'high', {fontSize: 14}),
  rect(486, 1352, 26, 26, annotColor.low), txt(523, 1365, 'low', {fontSize: 14}),
  // F: legend
  txt(867, 1514, 'Risk', {fontSize: 12}),
  boxKey(903, 1514, '#FF0000'), txt(927, 1514, 'high', {fontSize: 10}),
  boxKey(959, 1514, '#0000FF'), txt(983, 1514, 'low', {fontSize: 10})
];

var chart = echarts.init(document.getElementById('main'), null, {renderer: 'canvas'});
chart.setOption({
  animation: false,
  backgroundColor: '#fff',
  textStyle: {fontFamily: FONT},
  grid: grids,
  xAxis: xAxes,
  yAxis: yAxes,
  visualMap: [{type: 'continuous', min: -2, max: 2, seriesIndex: heatIndex, show: false,
    inRange: {color: ['#0000FF', '#FFFFFF', '#FF0000']}}],
  legend: legends,
  graphic: graphics,
  series: series
});
</script>
</body>
</html>
